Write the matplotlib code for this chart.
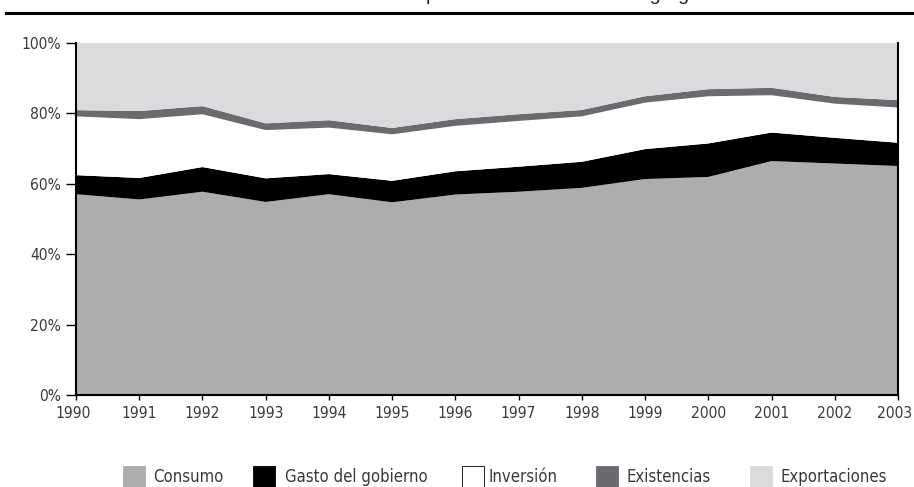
import matplotlib
matplotlib.use("Agg")
import matplotlib.pyplot as plt
import matplotlib.transforms as mtransforms
from matplotlib import font_manager
from matplotlib.patches import Rectangle
from matplotlib.lines import Line2D

# --- Data (percent of aggregate demand) ---
years = [1990, 1991, 1992, 1993, 1994, 1995, 1996, 1997, 1998, 1999, 2000, 2001, 2002, 2003]
consumo = [57.0, 55.5, 57.7, 54.8, 57.0, 54.7, 56.9, 57.7, 58.8, 61.3, 61.9, 66.4, 65.7, 65.0]
gasto = [5.4, 6.1, 7.0, 6.7, 5.7, 6.1, 6.6, 7.1, 7.4, 8.5, 9.5, 8.1, 7.3, 6.6]
inversion = [16.7, 16.7, 15.0, 13.7, 13.2, 13.2, 12.9, 13.0, 12.9, 13.2, 13.4, 10.6, 9.7, 10.0]
existencias = [1.75, 2.3, 2.3, 1.9, 2.1, 1.8, 1.9, 1.9, 1.8, 1.8, 2.0, 2.1, 1.9, 2.1]
exportaciones = [100 - c - g - i - e for c, g, i, e in zip(consumo, gasto, inversion, existencias)]

labels = ["Consumo", "Gasto del gobierno", "Inversión", "Existencias", "Exportaciones"]
colors = ["#adadb0", "#000000", "#ffffff", "#6b6a6e", "#dadbdd"]
title = "Evolución de la composición de la demanda agregada"

W, H = 914, 487

# pick a narrow face if there is one, otherwise Liberation Sans
narrow = None
for f in font_manager.fontManager.ttflist:
    if f.stretch in ("condensed", "semi-condensed") or "Narrow" in f.name or "Condensed" in f.name:
        if f.style == "normal" and f.weight in (300, 400, "normal", "light", "book"):
            narrow = f
            break
if narrow is not None:
    font_manager.fontManager.addfont(narrow.fname)
    plt.rcParams["font.family"] = [narrow.name, "DejaVu Sans"]
    plt.rcParams["font.stretch"] = narrow.stretch
    tick_fs, leg_fs = 11.2, 12
else:
    plt.rcParams["font.family"] = ["Liberation Sans", "DejaVu Sans"]
    tick_fs, leg_fs = 10.8, 11.5

fig = plt.figure(figsize=(W / 100, H / 100), dpi=100)
ax = fig.add_axes([76 / W, 1 - 395 / H, (898 - 76) / W, (395 - 42.7) / H])

ax.stackplot(years, consumo, gasto, inversion, existencias, exportaciones,
             colors=colors, linewidth=0)

ax.set_xlim(1990, 2003)
ax.set_ylim(0, 100)
ax.set_xticks(years)
ax.set_yticks([0, 20, 40, 60, 80, 100])
ax.set_yticklabels([f"{v}%" for v in [0, 20, 40, 60, 80, 100]])

for s in ["left", "bottom", "right"]:
    ax.spines[s].set_linewidth(1.5)
    ax.spines[s].set_color("black")
ax.spines["top"].set_visible(False)
ax.tick_params(axis="y", length=7, width=1.0, pad=4, labelsize=tick_fs, labelcolor="#3a3a3a")
ax.tick_params(axis="x", length=3.6, width=1.0, pad=4.5, labelsize=tick_fs, labelcolor="#3a3a3a")

# end labels sit a little to the left in the source, so 2003 stays inside
xlabs = ax.get_xticklabels()
for lab, dx in [(xlabs[0], -3), (xlabs[-1], -3)]:
    lab.set_transform(lab.get_transform() + mtransforms.ScaledTranslation(dx / 100, 0, fig.dpi_scale_trans))

# title (only its lower edge shows, as in the source) and rule
fig.text(487 / W, 1 - 0.5 / H, title, ha="center", va="baseline", fontsize=14,
         family=["Liberation Sans", "DejaVu Sans"], stretch="normal", color="#222222")
fig.add_artist(Line2D([6 / W, 1], [1 - 12.5 / H] * 2, color="black", lw=2.2))

# legend row at the bottom
patch_x = [123, 253, 462, 596, 750]
text_x = [153, 285, 488, 626, 780]
for lab, col, px, tx in zip(labels, colors, patch_x, text_x):
    fig.add_artist(Rectangle((px / W, 1 - 488 / H), 22 / W, 22 / H,
                             facecolor=col, edgecolor="black" if col == "#ffffff" else col,
                             lw=0.6, transform=fig.transFigure))
    fig.text(tx / W, 1 - 477 / H, lab, ha="left", va="center", fontsize=leg_fs, color="#3a3a3a")

fig.savefig("out.png", dpi=100)
